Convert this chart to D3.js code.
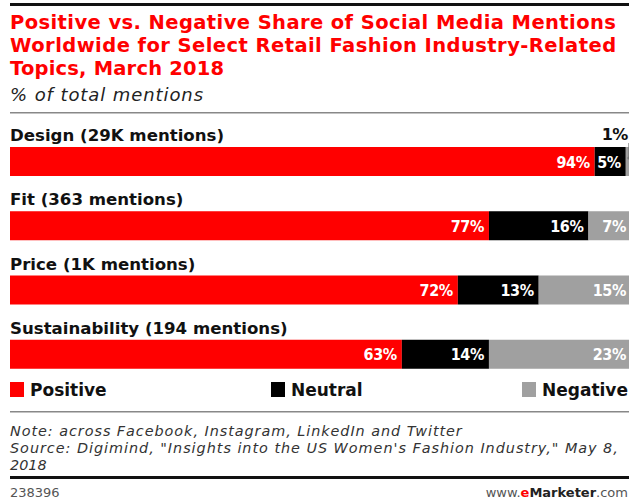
<!DOCTYPE html>
<html>
<head>
<meta charset="utf-8">
<script src="https://cdn.jsdelivr.net/npm/d3@7"></script>
<style>
  body { margin: 0; background: #fff; }
  svg { display: block; }
</style>
</head>
<body>
<div id="chart"></div>
<script>
var categories = ["Design (29K mentions)", "Fit (363 mentions)", "Price (1K mentions)", "Sustainability (194 mentions)"];
var positive = [94, 77, 72, 63];
var neutral = [5, 16, 13, 14];
var negative = [1, 7, 15, 23];
var seriesNames = ["Positive", "Neutral", "Negative"];
var seriesColors = ["#ff0000", "#000000", "#a0a0a0"];

var titleLines = ["Positive vs. Negative Share of Social Media Mentions",
                  "Worldwide for Select Retail Fashion Industry-Related",
                  "Topics, March 2018"];
var notes = ["Note: across Facebook, Instagram, LinkedIn and Twitter",
             "Source: Digimind, \"Insights into the US Women's Fashion Industry,\" May 8,",
             "2018"];

var W = 629, H = 502;
var font = "'DejaVu Sans', sans-serif";

var svg = d3.select("#chart").append("svg")
    .attr("width", W).attr("height", H)
    .style("font-family", font);

// stretch/squeeze a text to a wanted right edge with letter-spacing
function fitTo(sel, right) {
    sel.each(function() {
        var el = d3.select(this);
        var len = this.getComputedTextLength();
        var n = el.text().length;
        var x0 = +el.attr("x");
        if (n > 1) el.style("letter-spacing", ((right - x0 - len) / (n - 1)).toFixed(2) + "px");
    });
}

// top rule
svg.append("rect").attr("x", 10).attr("y", 3).attr("width", W - 10).attr("height", 3).attr("fill", "#111");

// title
var titleRight = [616, 616, 224];
titleLines.forEach(function(t, i) {
    var tt = svg.append("text")
        .attr("x", 10).attr("y", 29 + i * 23)
        .attr("fill", "#ff0000")
        .style("font-size", "19.5px").style("font-weight", 700)
        .text(t);
    fitTo(tt, titleRight[i]);
});
var sub = svg.append("text").attr("x", 10).attr("y", 101)
    .style("font-size", "18px").style("font-style", "italic").attr("fill", "#222")
    .text("% of total mentions");
fitTo(sub, 203);

svg.append("rect").attr("x", 10).attr("y", 112).attr("width", W - 10).attr("height", 1.5).attr("fill", "#888");

// scales
var x = d3.scaleLinear().domain([0, 100]).range([10, 632]);
var y = d3.scaleBand().domain(categories).range([118, 375]);
var barTop = 29, barH = 29;

var rows = categories.map(function(c, i) {
    var vals = [positive[i], neutral[i], negative[i]];
    var start = 0;
    var segs = vals.map(function(v, k) {
        var s = {cat: c, v: v, k: k, x0: start, x1: start + v};
        start += v;
        return s;
    });
    return {cat: c, segs: segs};
});

var row = svg.selectAll(".row").data(rows).enter().append("g")
    .attr("class", "row")
    .attr("transform", function(d) { return "translate(0," + y(d.cat) + ")"; });

row.append("text")
    .attr("x", 10).attr("y", 23)
    .style("font-size", "16.6px").style("font-weight", 700).attr("fill", "#111")
    .text(function(d) { return d.cat; });

row.selectAll("rect").data(function(d) { return d.segs; }).enter().append("rect")
    .attr("x", function(d) { return x(d.x0); })
    .attr("y", barTop)
    .attr("width", function(d) { return x(d.x1) - x(d.x0); })
    .attr("height", barH)
    .attr("fill", function(d) { return seriesColors[d.k]; });

// labels inside segments (tiny ones go above)
row.selectAll(".lbl").data(function(d) { return d.segs.filter(function(s) { return s.v >= 3; }); })
    .enter().append("text")
    .attr("class", "lbl")
    .attr("x", function(d) { return Math.min(x(d.x1), 631) - 5; })
    .attr("y", barTop + barH / 2 + 6)
    .attr("text-anchor", "end")
    .attr("fill", "#fff")
    .style("font-stretch", "condensed")
    .style("font-size", "16px").style("font-weight", 700)
    .style("letter-spacing", "-0.4px")
    .text(function(d) { return d.v + "%"; });

row.selectAll(".small").data(function(d) { return d.segs.filter(function(s) { return s.v < 3; }); })
    .enter().append("g").attr("class", "small")
    .each(function(d) {
        var g = d3.select(this);
        var cx = x((d.x0 + d.x1) / 2);
        g.append("text")
            .attr("x", 628).attr("y", 22)
            .attr("text-anchor", "end").attr("fill", "#111")
            .style("font-size", "16px").style("font-weight", 700)
            .style("letter-spacing", "-0.4px")
            .text(d.v + "%");
        g.append("line")
            .attr("x1", cx).attr("x2", cx).attr("y1", 25).attr("y2", barTop + 10)
            .attr("stroke", "#777").attr("stroke-width", 1);
        g.append("circle").attr("cx", cx).attr("cy", barTop + 11).attr("r", 1.6).attr("fill", "#777");
    });

// legend
var legX = [10, 271, 522];
var leg = svg.selectAll(".leg").data(seriesNames).enter().append("g")
    .attr("transform", function(d, i) { return "translate(" + legX[i] + ",382)"; });
leg.append("rect").attr("width", 14).attr("height", 15)
    .attr("fill", function(d, i) { return seriesColors[i]; });
leg.append("text").attr("x", 20).attr("y", 14)
    .style("font-size", "17px").style("font-weight", 700).attr("fill", "#111")
    .text(function(d) { return d; });

// notes
svg.append("rect").attr("x", 10).attr("y", 411).attr("width", W - 10).attr("height", 1.5).attr("fill", "#888");
var noteRight = [462, 618];
notes.forEach(function(t, i) {
    var nt = svg.append("text").attr("x", 10).attr("y", 436 + i * 16.8)
        .style("font-size", "14.4px").style("font-style", "italic").attr("fill", "#333")
        .text(t);
    if (i < 2) fitTo(nt, noteRight[i]);
});
svg.append("rect").attr("x", 10).attr("y", 476).attr("width", W - 10).attr("height", 3).attr("fill", "#111");

svg.append("text").attr("x", 10).attr("y", 497)
    .style("font-size", "13px").attr("fill", "#555").text("238396");
var brand = svg.append("text").attr("x", 628).attr("y", 497).attr("text-anchor", "end")
    .style("font-size", "13px").attr("fill", "#555");
brand.append("tspan").text("www.");
brand.append("tspan").attr("fill", "#ff0000").style("font-weight", 700).text("e");
brand.append("tspan").attr("fill", "#222").style("font-weight", 700).text("Marketer");
brand.append("tspan").text(".com");
</script>
</body>
</html>
